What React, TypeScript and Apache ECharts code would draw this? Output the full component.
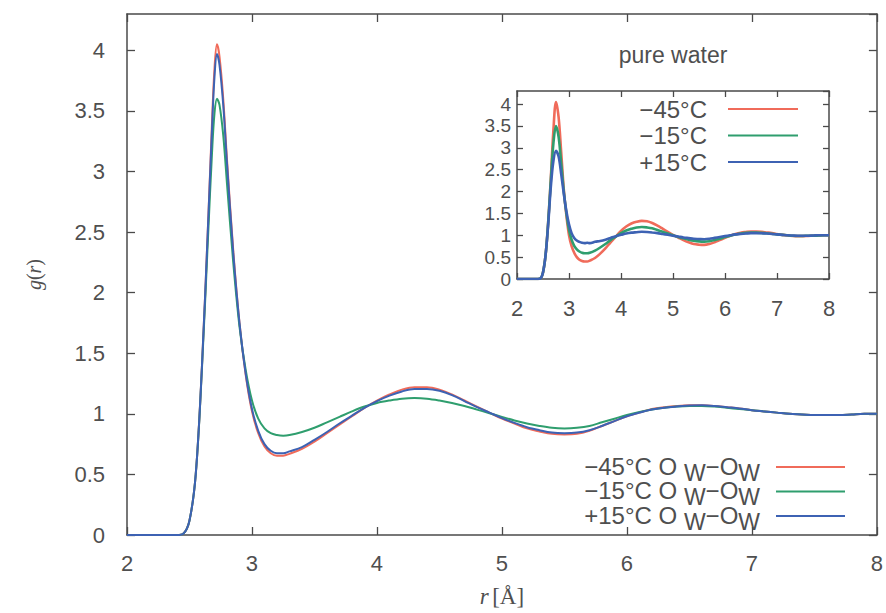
import React, { useEffect, useRef } from "react";
import * as echarts from "echarts";

// ---------- data ----------
const temps = ["−45°C", "−15°C", "+15°C"];
const colors = ["#f06b5a", "#2f9e6e", "#3d62b3"];

const xTicks = [2, 3, 4, 5, 6, 7, 8];
const yTicks = [0, 0.5, 1, 1.5, 2, 2.5, 3, 3.5, 4];

// main panel: O_W–O_W g(r)
const rMain = [
  2.0, 2.4, 2.45, 2.5, 2.55, 2.6, 2.65, 2.68, 2.7, 2.72, 2.74, 2.77, 2.8, 2.85, 2.9, 2.95, 3.0, 3.05, 3.1, 3.15, 3.2, 3.25, 3.3,
  3.4, 3.5, 3.6, 3.7, 3.8, 3.9, 4.0, 4.1, 4.2, 4.3, 4.4, 4.5, 4.6, 4.7, 4.8, 4.9, 5.0, 5.1, 5.2, 5.3, 5.4, 5.5, 5.6, 5.7, 5.8, 5.9,
  6.0, 6.1, 6.2, 6.3, 6.4, 6.5, 6.6, 6.7, 6.8, 6.9, 7.0, 7.1, 7.2, 7.3, 7.4, 7.5, 7.6, 7.7, 7.8, 7.9, 8.0,
];
const mainMinus45 = [
  0, 0, 0.01, 0.12, 0.5, 1.4, 2.6, 3.4, 3.85, 4.05, 3.95, 3.6, 3.1, 2.35, 1.75, 1.32, 1.02, 0.84, 0.73, 0.675, 0.655, 0.655, 0.67,
  0.71, 0.77, 0.84, 0.91, 0.98, 1.05, 1.11, 1.16, 1.2, 1.22, 1.22, 1.2, 1.16, 1.11, 1.06, 1.01, 0.96, 0.92, 0.88, 0.855, 0.835,
  0.83, 0.835, 0.86, 0.9, 0.94, 0.98, 1.01, 1.04, 1.055, 1.065, 1.07, 1.07, 1.065, 1.055, 1.045, 1.03, 1.02, 1.01, 1.0, 0.995,
  0.99, 0.99, 0.99, 0.995, 1.0, 1.0,
];
const mainMinus15 = [
  0, 0, 0.01, 0.12, 0.5, 1.38, 2.5, 3.15, 3.48, 3.6, 3.55, 3.3, 2.9, 2.25, 1.72, 1.36, 1.11, 0.96, 0.88, 0.84, 0.825, 0.82, 0.825,
  0.85, 0.885, 0.93, 0.975, 1.02, 1.06, 1.09, 1.11, 1.125, 1.13, 1.125, 1.11, 1.09, 1.065, 1.035, 1.005, 0.975, 0.945, 0.92, 0.9,
  0.885, 0.88, 0.885, 0.9, 0.93, 0.96, 0.99, 1.015, 1.035, 1.05, 1.06, 1.065, 1.065, 1.06, 1.05, 1.04, 1.03, 1.02, 1.01, 1.0,
  0.995, 0.99, 0.99, 0.99, 0.995, 1.0, 1.0,
];
const mainPlus15 = [
  0, 0, 0.01, 0.12, 0.5, 1.4, 2.6, 3.35, 3.78, 3.97, 3.88, 3.55, 3.07, 2.33, 1.75, 1.33, 1.04, 0.86, 0.75, 0.695, 0.675, 0.675, 0.69,
  0.725, 0.785, 0.85, 0.92, 0.985, 1.05, 1.105, 1.15, 1.185, 1.205, 1.205, 1.19, 1.155, 1.105, 1.055, 1.01, 0.965, 0.925, 0.89,
  0.865, 0.845, 0.84, 0.845, 0.865, 0.9, 0.94, 0.98, 1.01, 1.035, 1.05, 1.06, 1.068, 1.07, 1.065, 1.055, 1.045, 1.03, 1.02, 1.01,
  1.0, 0.995, 0.99, 0.99, 0.99, 0.995, 1.0, 1.0,
];

// inset: pure water
const rInset = [
  2.0, 2.4, 2.45, 2.5, 2.55, 2.6, 2.65, 2.7, 2.75, 2.8, 2.85, 2.9, 2.95, 3.0, 3.05, 3.1, 3.15, 3.2, 3.25, 3.3, 3.35, 3.4,
  3.5, 3.6, 3.7, 3.8, 3.9, 4.0, 4.1, 4.2, 4.3, 4.4, 4.5, 4.6, 4.7, 4.8, 4.9, 5.0, 5.1, 5.2, 5.3, 5.4, 5.5, 5.6, 5.7, 5.8, 5.9,
  6.0, 6.1, 6.2, 6.3, 6.4, 6.5, 6.6, 6.7, 6.8, 6.9, 7.0, 7.1, 7.2, 7.3, 7.4, 7.5, 7.6, 7.7, 7.8, 7.9, 8.0,
];
const insetMinus45 = [
  0, 0, 0.01, 0.15, 0.55, 1.3, 2.3, 3.4, 4.05, 3.7, 2.9, 2.05, 1.45, 1.0, 0.75, 0.6, 0.5, 0.44, 0.41, 0.4, 0.4, 0.42,
  0.48, 0.58, 0.7, 0.84, 0.97, 1.1, 1.2, 1.27, 1.31, 1.33, 1.32, 1.28, 1.22, 1.15, 1.08, 1.01, 0.95, 0.89, 0.84, 0.8, 0.785,
  0.78, 0.8, 0.84, 0.89, 0.94, 0.99, 1.03, 1.06, 1.075, 1.085, 1.085, 1.08, 1.065, 1.05, 1.03, 1.01, 0.995, 0.985, 0.98, 0.98,
  0.985, 0.99, 0.995, 1.0, 1.0,
];
const insetMinus15 = [
  0, 0, 0.01, 0.15, 0.55, 1.3, 2.25, 3.1, 3.5, 3.25, 2.65, 2.0, 1.5, 1.12, 0.9, 0.76, 0.68, 0.63, 0.6, 0.59, 0.59, 0.6,
  0.65, 0.72, 0.8, 0.89, 0.97, 1.05, 1.11, 1.15, 1.18, 1.19, 1.18, 1.16, 1.12, 1.08, 1.04, 1.0, 0.96, 0.93, 0.9, 0.875, 0.86,
  0.855, 0.865, 0.89, 0.92, 0.96, 0.99, 1.02, 1.04, 1.055, 1.06, 1.06, 1.055, 1.045, 1.035, 1.02, 1.01, 1.0, 0.99, 0.985, 0.985,
  0.99, 0.99, 0.995, 1.0, 1.0,
];
const insetPlus15 = [
  0, 0, 0.01, 0.15, 0.55, 1.25, 2.1, 2.7, 2.93, 2.8, 2.4, 1.95, 1.55, 1.25, 1.05, 0.94, 0.88, 0.85, 0.83, 0.82, 0.83, 0.82,
  0.85, 0.87, 0.9, 0.94, 0.98, 1.01, 1.04, 1.06, 1.07, 1.08, 1.075, 1.065, 1.05, 1.03, 1.01, 0.99, 0.97, 0.95, 0.935, 0.92, 0.915,
  0.91, 0.92, 0.94, 0.96, 0.98, 1.0, 1.02, 1.03, 1.04, 1.05, 1.05, 1.045, 1.04, 1.03, 1.02, 1.01, 1.0, 0.995, 0.99, 0.99, 0.99,
  0.995, 1.0, 1.0, 1.0,
];

const mainSeriesValues = [mainMinus45, mainMinus15, mainPlus15];
const insetSeriesValues = [insetMinus45, insetMinus15, insetPlus15];

// ---------- styles ----------
const FONT = "'Liberation Sans', Arial, Helvetica, sans-serif";
const SERIF = "'Liberation Serif', 'DejaVu Serif', serif";
const TEXT = "#4f4f4f";
const AXIS = "#4a4a4a";

const isTick = (v: number) => yTicks.some((t) => Math.abs(t - v) < 1e-6);

function makeX(grid: number, bottom: boolean, opts: any) {
  return {
    type: "value",
    gridIndex: grid,
    min: xTicks[0],
    max: xTicks[xTicks.length - 1],
    interval: 1,
    position: bottom ? "bottom" : "top",
    axisLine: { show: true, onZero: false, lineStyle: { color: AXIS, width: 1.5 } },
    axisTick: { show: true, inside: true, length: opts.tick, lineStyle: { color: AXIS, width: 1.3 } },
    axisLabel: {
      show: bottom,
      margin: opts.margin,
      fontSize: opts.font,
      fontFamily: FONT,
      color: TEXT,
    },
    splitLine: { show: false },
    ...(opts.extra || {}),
  };
}
function makeY(grid: number, left: boolean, opts: any) {
  return {
    type: "value",
    gridIndex: grid,
    min: yTicks[0],
    max: 4.3,
    interval: 0.5,
    position: left ? "left" : "right",
    axisLine: { show: true, onZero: false, lineStyle: { color: AXIS, width: 1.5 } },
    axisTick: { show: true, inside: true, length: opts.tick, lineStyle: { color: AXIS, width: 1.3 } },
    axisLabel: {
      show: left,
      margin: opts.margin,
      fontSize: opts.font,
      fontFamily: FONT,
      color: TEXT,
      showMaxLabel: false,
      formatter: (v: number) => (isTick(v) ? String(v) : ""),
    },
    splitLine: { show: false },
    ...(opts.extra || {}),
  };
}

export default function App() {
  const ref = useRef<HTMLDivElement>(null);
  useEffect(() => {
    if (!ref.current) return;
    const chart = echarts.init(ref.current, null, { renderer: "svg" });

    const mainNames = temps.map((t) => `${t} O W−OW`);
    const insetNames = temps.slice();

    const series: any[] = [];
    mainSeriesValues.forEach((vals, i) => {
      series.push({
        name: mainNames[i],
        type: "line",
        xAxisIndex: 0,
        yAxisIndex: 0,
        data: rMain.map((r, k) => [r, vals[k]]),
        showSymbol: false,
        symbol: "none",
        smooth: 0.35,
        color: colors[i],
        lineStyle: { color: colors[i], width: 2 },
        z: 2 + i,
      });
    });
    insetSeriesValues.forEach((vals, i) => {
      series.push({
        name: insetNames[i],
        type: "line",
        xAxisIndex: 2,
        yAxisIndex: 2,
        data: rInset.map((r, k) => [r, vals[k]]),
        showSymbol: false,
        symbol: "none",
        smooth: 0.35,
        color: colors[i],
        lineStyle: { color: colors[i], width: 2.6 },
        z: 2 + i,
      });
    });

    // main legend (with subscripts) drawn as graphic rich text + sample lines
    const legendGraphics: any[] = [];
    temps.forEach((t, i) => {
      const y = 467 + i * 24.5;
      legendGraphics.push({
        type: "text",
        x: 760,
        y: y + 2,
        style: {
          text: `{t|${t} O }{s|W}{t|−O}{s|W}`,
          textAlign: "right",
          textVerticalAlign: "middle",
          fill: TEXT,
          rich: {
            t: { fontFamily: FONT, fontSize: 24, fill: TEXT, color: TEXT, lineHeight: 24, verticalAlign: "top" },
            s: { fontFamily: FONT, fontSize: 23, fill: TEXT, color: TEXT, lineHeight: 30, verticalAlign: "bottom" },
          },
        },
      });
      legendGraphics.push({
        type: "line",
        shape: { x1: 776, y1: y, x2: 845, y2: y },
        style: { stroke: colors[i], lineWidth: 2 },
      });
    });

    const option: any = {
      animation: false,
      backgroundColor: "#ffffff",
      grid: [
        { left: 127, top: 14, width: 750, height: 526, show: false },
        { left: 517, top: 91, width: 312, height: 188, show: false },
      ],
      xAxis: [
        makeX(0, true, {
          tick: 8,
          margin: 17,
          font: 22,
          extra: {
            name: "{i|r} {n|[Å]}",
            nameLocation: "middle",
            nameGap: 50,
            nameTextStyle: {
              rich: {
                i: { fontFamily: SERIF, fontStyle: "italic", fontSize: 23, color: TEXT },
                n: { fontFamily: SERIF, fontSize: 23, color: TEXT },
              },
            },
          },
        }),
        makeX(0, false, { tick: 8, margin: 17, font: 22 }),
        makeX(1, true, { tick: 6, margin: 18, font: 22 }),
        makeX(1, false, { tick: 6, margin: 18, font: 22 }),
      ],
      yAxis: [
        makeY(0, true, {
          tick: 8,
          margin: 22,
          font: 22,
          extra: {
            name: "{i|g}{n|(}{i|r}{n|)}",
            nameLocation: "middle",
            nameGap: 83,
            nameRotate: 90,
            nameTextStyle: {
              rich: {
                i: { fontFamily: SERIF, fontStyle: "italic", fontSize: 20, color: TEXT },
                n: { fontFamily: SERIF, fontSize: 20, color: TEXT },
              },
            },
          },
        }),
        makeY(0, false, { tick: 8, margin: 22, font: 22 }),
        makeY(1, true, { tick: 6, margin: 6, font: 19 }),
        makeY(1, false, { tick: 6, margin: 6, font: 19 }),
      ],
      legend: [
        {
          data: insetNames,
          orient: "vertical",
          right: 83,
          top: 92,
          align: "right",
          icon: "rect",
          itemWidth: 70,
          itemHeight: 2,
          itemGap: 2.5,
          selectedMode: false,
          z: 10,
          textStyle: {
            color: TEXT,
            fontFamily: FONT,
            fontSize: 24,
            padding: [0, 16, 0, 0],
          },
        },
      ],
      graphic: [
        {
          type: "text",
          x: 673,
          y: 55,
          style: {
            text: "pure water",
            font: `23px ${FONT}`,
            fill: TEXT,
            textAlign: "center",
            textVerticalAlign: "middle",
          },
        },
        ...legendGraphics,
      ],
      series,
    };
    chart.setOption(option);
    return () => chart.dispose();
  }, []);
  return (
    <div
      ref={ref}
      style={{ position: "fixed", left: 0, top: 0, width: 886, height: 613, background: "#fff" }}
    />
  );
}
